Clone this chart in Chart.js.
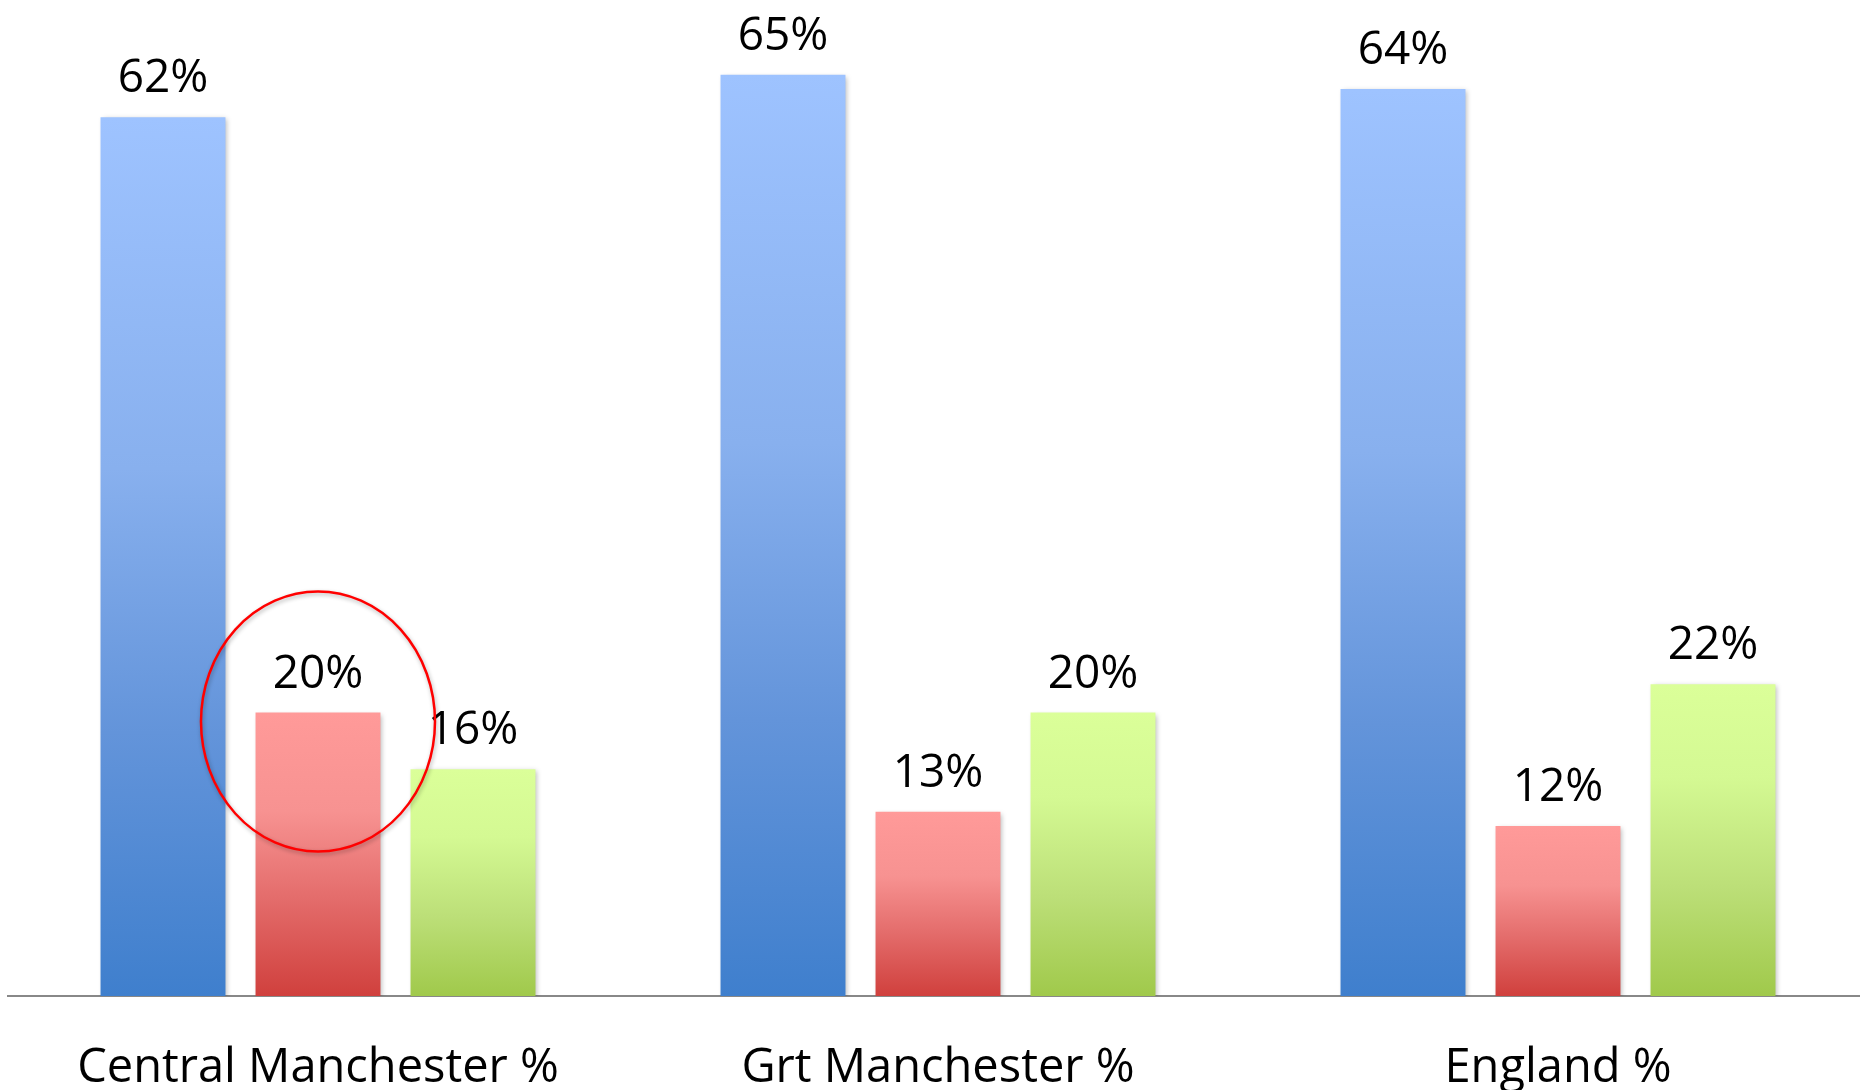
<!DOCTYPE html>
<html>
<head>
<meta charset="utf-8">
<title>Bar chart</title>
<script src="https://cdn.jsdelivr.net/npm/chart.js@4.4.1/dist/chart.umd.min.js"></script>
<style>
  html, body { margin: 0; padding: 0; background: #fff; overflow: hidden; }
  #wrap { width: 1870px; height: 1100px; }
</style>
</head>
<body>
<div id="wrap"><canvas id="chart" width="1870" height="1100"></canvas></div>
<script>
const categories = ["Central Manchester %", "Grt Manchester %", "England %"];
const blueValues = [62, 65, 64];
const redValues = [20, 13, 12];
const greenValues = [16, 20, 22];

const FONT = "'Open Sans', 'Noto Sans', sans-serif";

// vertical gradient per bar, from its top down to the baseline
function barGradient(stops) {
  return (context) => {
    const chart = context.chart;
    const y = chart.scales.y;
    if (!y || context.type !== "data") return stops[stops.length - 1][1];
    const top = y.getPixelForValue(context.raw);
    const bottom = y.getPixelForValue(0);
    if (!isFinite(top) || !isFinite(bottom) || top === bottom) return stops[stops.length - 1][1];
    const g = chart.ctx.createLinearGradient(0, top, 0, bottom);
    stops.forEach(([o, c]) => g.addColorStop(o, c));
    return g;
  };
}

const blueStops = [[0, "#9EC3FF"], [0.4, "#88B0EE"], [0.7, "#6394DA"], [1, "#3F7FCD"]];
const redStops = [[0, "#FF9A99"], [0.35, "#F79291"], [0.65, "#E46D6C"], [1, "#D0403D"]];
const greenStops = [[0, "#DBFF99"], [0.3, "#D4F993"], [0.65, "#BCDF78"], [1, "#A0C94B"]];

// soft drop shadow under the bars
const barShadow = {
  id: "barShadow",
  beforeDatasetsDraw(chart) {
    const ctx = chart.ctx;
    ctx.save();
    ctx.shadowColor = "rgba(0,0,0,0.28)";
    ctx.shadowBlur = 5;
    ctx.shadowOffsetX = 2;
    ctx.shadowOffsetY = 2;
  },
  afterDatasetsDraw(chart) {
    chart.ctx.restore();
  }
};

// value labels above each bar + the red ring around the first red bar
const valueLabels = {
  id: "valueLabels",
  afterDatasetsDraw(chart) {
    const ctx = chart.ctx;
    ctx.save();
    ctx.font = "46px " + FONT;
    ctx.fillStyle = "#000";
    ctx.textAlign = "center";
    ctx.textBaseline = "alphabetic";
    chart.data.datasets.forEach((ds, di) => {
      const meta = chart.getDatasetMeta(di);
      meta.data.forEach((bar, i) => {
        ctx.fillText(ds.data[i] + "%", bar.x, bar.y - 25);
      });
    });

    const ringBar = chart.getDatasetMeta(1).data[0];
    ctx.beginPath();
    ctx.ellipse(ringBar.x, ringBar.y + 9, 117, 130, 0, 0, Math.PI * 2);
    ctx.shadowColor = "rgba(0,0,0,0.3)";
    ctx.shadowBlur = 4;
    ctx.shadowOffsetX = 1;
    ctx.shadowOffsetY = 2;
    ctx.strokeStyle = "#FF0000";
    ctx.lineWidth = 2.5;
    ctx.stroke();
    ctx.restore();
  }
};

const ctx = document.getElementById("chart").getContext("2d");
new Chart(ctx, {
  type: "bar",
  data: {
    labels: categories,
    datasets: [
      { label: "Series 1", data: blueValues, backgroundColor: barGradient(blueStops) },
      { label: "Series 2", data: redValues, backgroundColor: barGradient(redStops) },
      { label: "Series 3", data: greenValues, backgroundColor: barGradient(greenStops) }
    ]
  },
  options: {
    responsive: false,
    animation: false,
    devicePixelRatio: 1,
    categoryPercentage: 0.75,
    barPercentage: 0.806,
    layout: { padding: { left: 8, right: 2, top: 4, bottom: 0 } },
    plugins: {
      legend: { display: false },
      tooltip: { enabled: false }
    },
    scales: {
      x: {
        grid: { display: false, drawTicks: false },
        border: { display: true, color: "#888888", width: 2 },
        ticks: {
          color: "#000",
          font: { family: FONT, size: 47 },
          padding: 44,
          autoSkip: false,
          maxRotation: 0
        },
        afterFit(scale) { scale.height = 104; }
      },
      y: {
        display: false,
        min: 0,
        max: 70
      }
    }
  },
  plugins: [barShadow, valueLabels]
});
</script>
</body>
</html>
